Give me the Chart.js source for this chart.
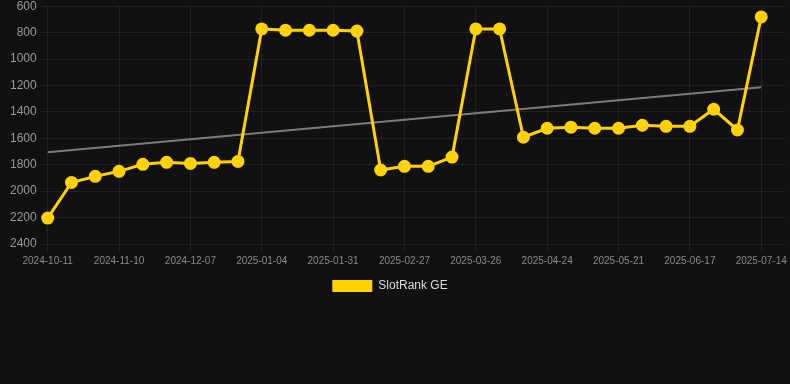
<!DOCTYPE html>
<html>
<head>
<meta charset="utf-8">
<script src="https://cdn.jsdelivr.net/npm/chart.js@4/dist/chart.umd.min.js"></script>
<style>
html,body{margin:0;padding:0;background:#111111;overflow:hidden;}
#wrap{position:absolute;left:0;top:-4px;width:793px;height:306px;}
</style>
</head>
<body>
<div id="wrap"><canvas id="c"></canvas></div>
<script>
const categories = [
  "2024-10-11","2024-10-21","2024-10-31","2024-11-10","2024-11-19","2024-11-28",
  "2024-12-07","2024-12-16","2024-12-25","2025-01-04","2025-01-13","2025-01-22",
  "2025-01-31","2025-02-09","2025-02-18","2025-02-27","2025-03-08","2025-03-17",
  "2025-03-26","2025-04-04","2025-04-14","2025-04-24","2025-05-03","2025-05-12",
  "2025-05-21","2025-05-30","2025-06-08","2025-06-17","2025-06-26","2025-07-05",
  "2025-07-14","2025-07-23"
];
const rankValues = [
  2204,1934,1888,1850,1797,1782,1790,1782,1775,772,782,782,782,788,1840,
  1812,1812,1742,772,772,1592,1524,1516,1524,1524,1501,1509,1509,1380,1537,681,null
];
const trendValues = [
  1706,null,null,null,null,null,null,null,null,null,null,null,null,null,null,
  null,null,null,null,null,null,null,null,null,null,null,null,null,null,null,1213,null
];
const yTicks = { min: 600, max: 2400, step: 200 };

const gridColor = 'rgba(255,255,255,0.07)';
Chart.defaults.font.family = "'Liberation Sans', Arial, sans-serif";

const legendShift = {
  id: 'legendShift',
  afterLayout(chart) {
    const lg = chart.legend;
    if (lg) { lg.left -= 10; lg.right -= 10; }
  }
};

new Chart(document.getElementById('c'), {
  type: 'line',
  data: {
    labels: categories,
    datasets: [
      {
        label: 'SlotRank GE',
        data: rankValues,
        borderColor: '#FFD200',
        backgroundColor: '#FFD200',
        borderWidth: 3,
        pointRadius: 5,
        pointHoverRadius: 5,
        pointBackgroundColor: '#FFD200',
        pointBorderColor: '#FFD200',
        tension: 0
      },
      {
        label: 'trend',
        data: trendValues,
        borderColor: 'rgba(160,160,160,0.75)',
        borderWidth: 2,
        pointRadius: 0,
        spanGaps: true,
        tension: 0
      }
    ]
  },
  plugins: [legendShift],
  options: {
    responsive: true,
    maintainAspectRatio: false,
    animation: false,
    layout: { padding: { left: 7 } },
    plugins: {
      legend: {
        position: 'bottom',
        labels: {
          color: '#dddddd',
          font: { size: 12 },
          boxWidth: 40,
          boxHeight: 12,
          generateLabels: chart => Chart.defaults.plugins.legend.labels.generateLabels(chart)
            .filter(l => l.datasetIndex === 0)
            .map(l => Object.assign(l, { strokeStyle: 'rgba(0,0,0,0)', fillStyle: '#FFD200' }))
        }
      },
      tooltip: { enabled: false }
    },
    scales: {
      x: {
        grid: {
          color: ctx => (ctx.index % 3 === 0 && ctx.index < 31) ? gridColor : 'rgba(0,0,0,0)'
        },
        border: { display: false },
        ticks: {
          autoSkip: false,
          maxRotation: 0,
          color: '#8a8a8a',
          font: { size: 10 },
          callback: (v, i) => (i % 3 === 0 && i < 31) ? categories[i] : ''
        }
      },
      y: {
        reverse: true,
        min: yTicks.min,
        max: yTicks.max,
        grid: { color: gridColor },
        border: { display: false },
        ticks: {
          stepSize: yTicks.step,
          color: '#9a9a9a',
          font: { size: 12 },
          callback: v => String(v)
        }
      }
    }
  }
});
</script>
</body>
</html>
